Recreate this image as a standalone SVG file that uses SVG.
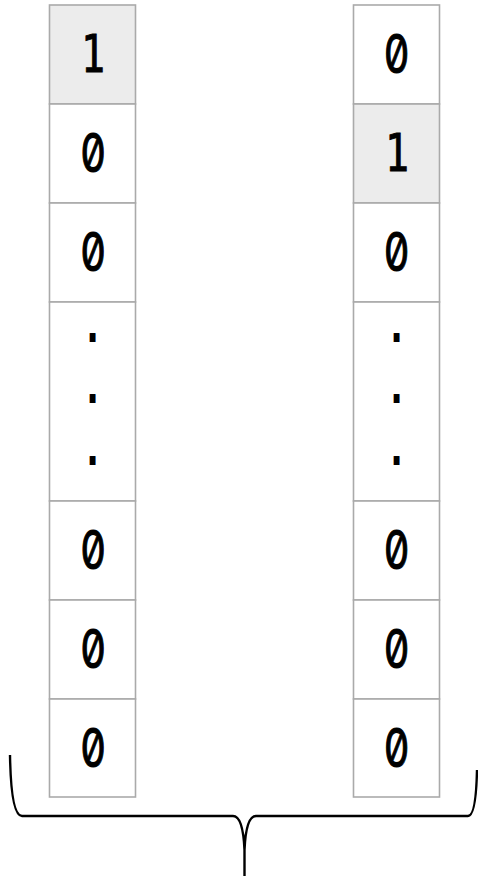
<svg xmlns="http://www.w3.org/2000/svg" width="478" height="876" viewBox="0 0 478 876">
<style>
.cell{fill:#ffffff;stroke:#aaaaaa;stroke-width:1.6}
.hi{fill:#ececec}
.t{font-family:"DejaVu Sans Mono","Liberation Mono",monospace;font-size:40px;fill:#000;stroke:#000;stroke-width:0.7;text-anchor:middle}
.d{font-family:"DejaVu Sans Mono","Liberation Mono",monospace;font-size:36px;font-weight:bold;fill:#000;text-anchor:middle}
.z{font-family:Inter,"Noto Sans",sans-serif;font-feature-settings:"zero" 1;font-variant-numeric:slashed-zero;font-size:40px;font-weight:400;fill:#000;stroke:#000;stroke-width:0.8;text-anchor:middle}
.brace{fill:none;stroke:#000;stroke-width:2.4}
</style>
<rect width="478" height="876" fill="#ffffff"/>
<g id="left-column">
<g id="l1"><rect class="cell hi" x="49.5" y="5" width="86" height="99"/><text class="t" transform="translate(93,53) scale(1,1.28)" y="14.5">1</text></g>
<g id="l2"><rect class="cell" x="49.5" y="104" width="86" height="99"/><text class="z" transform="translate(93,152) scale(1,1.35)" y="14.5">0</text></g>
<g id="l3"><rect class="cell" x="49.5" y="203" width="86" height="99"/><text class="z" transform="translate(93,251) scale(1,1.35)" y="14.5">0</text></g>
<g id="l4"><rect class="cell" x="49.5" y="302" width="86" height="199"/>
<text class="d" transform="translate(92.5,336.5) scale(1,1.4)" y="3.6">.</text>
<text class="d" transform="translate(92.5,398) scale(1,1.4)" y="3.6">.</text>
<text class="d" transform="translate(92.5,459.5) scale(1,1.4)" y="3.6">.</text></g>
<g id="l5"><rect class="cell" x="49.5" y="501" width="86" height="99"/><text class="z" transform="translate(93,549) scale(1,1.35)" y="14.5">0</text></g>
<g id="l6"><rect class="cell" x="49.5" y="600" width="86" height="99"/><text class="z" transform="translate(93,648) scale(1,1.35)" y="14.5">0</text></g>
<g id="l7"><rect class="cell" x="49.5" y="699" width="86" height="98"/><text class="z" transform="translate(93,747) scale(1,1.35)" y="14.5">0</text></g>
</g>
<g id="right-column">
<g id="r1"><rect class="cell" x="353.5" y="5" width="86" height="99"/><text class="z" transform="translate(396.5,53) scale(1,1.35)" y="14.5">0</text></g>
<g id="r2"><rect class="cell hi" x="353.5" y="104" width="86" height="99"/><text class="t" transform="translate(397,152) scale(1,1.28)" y="14.5">1</text></g>
<g id="r3"><rect class="cell" x="353.5" y="203" width="86" height="99"/><text class="z" transform="translate(396.5,251) scale(1,1.35)" y="14.5">0</text></g>
<g id="r4"><rect class="cell" x="353.5" y="302" width="86" height="199"/>
<text class="d" transform="translate(396.5,336.5) scale(1,1.4)" y="3.6">.</text>
<text class="d" transform="translate(396.5,398) scale(1,1.4)" y="3.6">.</text>
<text class="d" transform="translate(396.5,459.5) scale(1,1.4)" y="3.6">.</text></g>
<g id="r5"><rect class="cell" x="353.5" y="501" width="86" height="99"/><text class="z" transform="translate(396.5,549) scale(1,1.35)" y="14.5">0</text></g>
<g id="r6"><rect class="cell" x="353.5" y="600" width="86" height="99"/><text class="z" transform="translate(396.5,648) scale(1,1.35)" y="14.5">0</text></g>
<g id="r7"><rect class="cell" x="353.5" y="699" width="86" height="98"/><text class="z" transform="translate(396.5,747) scale(1,1.35)" y="14.5">0</text></g>
</g>
<g id="connectors">
<path class="brace" d="M10,755 Q11,816 22,816 L233,816 Q243,816 244.5,850 L244.5,876 M244.5,850 Q246,816 256,816 L468,816 Q476,816 477,770"/>
</g>
</svg>
